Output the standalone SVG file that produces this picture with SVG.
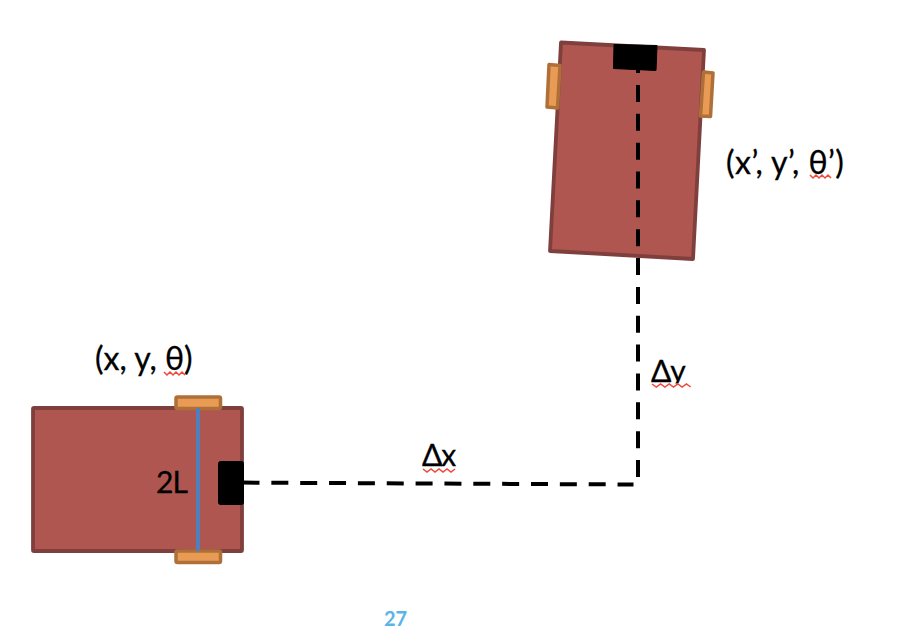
<svg xmlns="http://www.w3.org/2000/svg" width="904" height="636" viewBox="0 0 904 636">
<style>
.body{fill:#B05650;stroke:#7F3F3C;stroke-width:3.800;stroke-linejoin:round}
.wheel{fill:#E99B55;stroke:#AE7038;stroke-width:3.500;stroke-linejoin:round}
.cam{fill:#000;stroke:#000;stroke-width:1;stroke-linejoin:round}
.dash{fill:none;stroke:#000;stroke-width:4;stroke-dasharray:17 11.85}
.axle{fill:none;stroke:#4F7FBC;stroke-width:4}
.t{font-family:"Lato","Carlito","Liberation Sans",sans-serif;font-size:32px;fill:#000;stroke:#000;stroke-width:0.3}
.s{font-size:30px;letter-spacing:-1px}
.sq{fill:none;stroke:#F0483C;stroke-width:1.500}
.pg{font-family:"Lato","Liberation Sans",sans-serif;font-size:20px;font-weight:700;fill:#5AB4E8;text-anchor:middle}
</style>
<defs>
<clipPath id="dyclip"><rect x="640" y="340" width="60" height="43.500"/></clipPath>
</defs>
<g id="robot-start">
<rect class="body" x="33" y="408" width="209" height="143" rx="1"/>
<rect class="wheel" x="176" y="397" width="44.500" height="11.500" rx="1.500"/>
<rect class="wheel" x="176" y="551" width="44.500" height="11.500" rx="1.500"/>
<line class="axle" x1="198" y1="408" x2="198" y2="551"/>
<rect class="cam" x="218.500" y="461.500" width="25" height="43" rx="2"/>
<text class="t s" x="156" y="493">2L</text>
</g>
<g id="robot-end">
<polygon class="body" points="561,42.500 704,50 693,259 550,251"/>
<polygon class="wheel" points="549,64.500 560,65.500 557.500,108 547,107"/>
<polygon class="wheel" points="703.500,72 713,73 710.500,116.500 700.500,116"/>
</g>
<g id="connectors">
<path class="dash" d="M638 56.100V478"/>
<path class="dash" d="M242.500 482.600L633.500 484.500"/>
</g>
<g id="robot-end-camera">
<polygon class="cam" points="614,44.500 657,45.500 656,70.500 613.500,68.500"/>
</g>
<g id="label-start">
<text class="t" x="95" y="370">(x, y, θ)</text>
<path class="sq" d="M164 372l3 3 3-3 3 3 3-3 3 3 3-3 3 3"/>
</g>
<g id="label-end">
<text class="t" x="726" y="173.500" letter-spacing="0.500">(x’, y’, θ’)</text>
<path class="sq" d="M810 175l3 3 3-3 3 3 3-3 3 3 3-3 3 3"/>
</g>
<g id="label-dx">
<text class="t s" x="422" y="466">Δx</text>
<path class="sq" d="M423 469l4 3 4-3 4 3 4-3 4 3 4-3 4 3 4-3"/>
</g>
<g id="label-dy">
<text class="t s" x="651" y="382" clip-path="url(#dyclip)">Δy</text>
<path class="sq" d="M652 384l4.300 3 4.300-3 4.300 3 4.300-3 4.300 3 4.300-3 4.300 3 4.300-3 4.300 3"/>
</g>
<g id="page-number">
<text class="pg" x="395.500" y="626">27</text>
</g>
</svg>
